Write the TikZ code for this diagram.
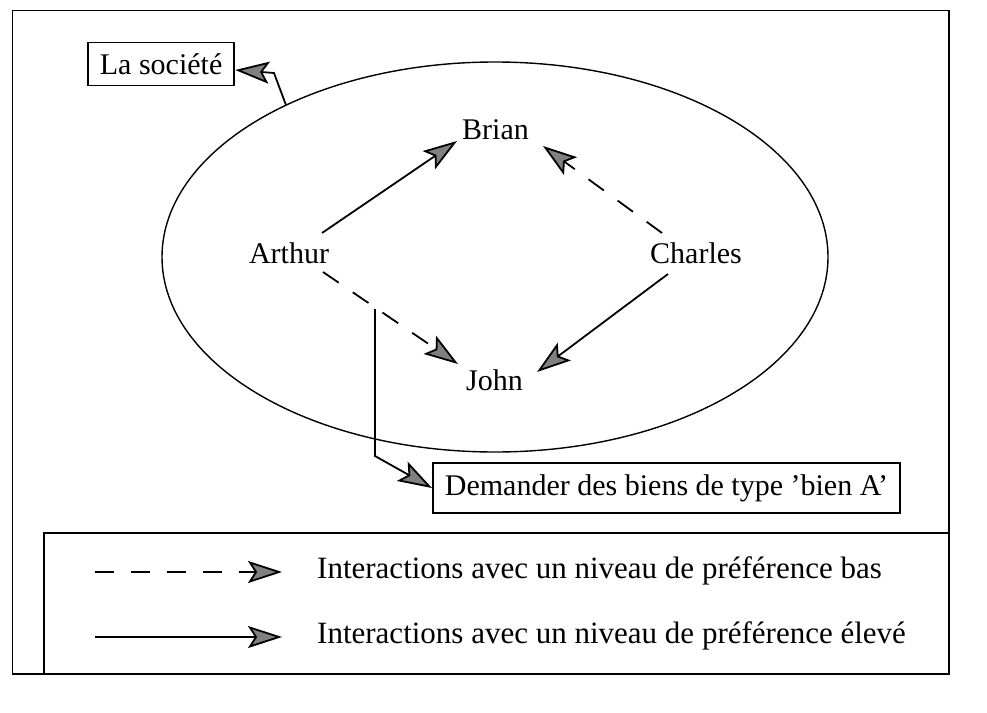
\documentclass[tikz,border=0pt]{standalone}
\usepackage{fontspec}
\setmainfont{Liberation Serif}
\usetikzlibrary{arrows.meta,shapes.geometric,calc}
\begin{document}
\begin{tikzpicture}[x=1pt,y=-1pt,
  txt/.style={font=\fontsize{30}{36}\selectfont, inner sep=0pt},
  legendtxt/.style={font=\fontsize{31}{37}\selectfont, inner sep=0pt, anchor=base west},
  person/.style={txt, anchor=base},
  labelbox/.style={txt, draw, line width=1.8pt, inner xsep=12pt, inner ysep=11pt, anchor=west},
  headtip/.style={-{Stealth[length=34pt,width=22pt,inset=7pt,fill=black!50]}},
  link/.style={line width=1.8pt, headtip},
  weak/.style={link, dash pattern=on 19pt off 17pt},
  frame/.style={line width=1.8pt},
]
\useasboundingbox (0,0) rectangle (987,712);

% outer frame
\draw[frame] (12.5,10.5) rectangle (949,674);

% the society
\node[draw, ellipse, line width=1.4pt, minimum width=666pt, minimum height=390pt,
      inner sep=0pt, outer sep=0pt] (society) at (495,257) {};

% agents
\node[person] (brian)   at (495.5,139) {Brian};
\node[person] (arthur)  at (289,263)   {Arthur};
\node[person] (charles) at (696,263)   {Charles};
\node[person] (john)    at (494.5,390) {John};

% interactions
\draw[link] ($(arthur.base)+(33,-30)$) -- ($(brian.base)+(-38.5,2)$);
\draw[weak] ($(charles.base)+(-34,-30)$) -- ($(brian.base)+(47.5,7)$);
\draw[link] ($(charles.base)+(-28,11)$) -- ($(john.base)+(42.5,-18)$);
\draw[weak] ($(arthur.base)+(34,9)$) -- ($(john.base)+(-36.5,-26)$);

% captions
\node[labelbox] (soc) at (87,64) {La société};
\coordinate (sbend) at (274,73);
\draw[link] (society.144) -- (sbend) -- ($(soc.east)+(0,6)$);

\node[labelbox] (dem) at (432,488) {Demander des biens de type 'bien A'};
\coordinate (dstart) at (375,309);
\coordinate (dbend) at (375,456);
\draw[link] (dstart) -- (dbend) -- (dem.west);

% legend
\draw[frame] (44,533) rectangle (949,674);
\coordinate (lowA) at (95,572);
\coordinate (lowB) at (282,572);
\coordinate (highA) at (95,637);
\coordinate (highB) at (282,637);
\draw[weak] (lowA) -- (lowB);
\draw[link] (highA) -- (highB);
\node[legendtxt] (lowtxt)  at (317,578) {Interactions avec un niveau de préférence bas};
\node[legendtxt] (hightxt) at (317,643) {Interactions avec un niveau de préférence élevé};
\end{tikzpicture}
\end{document}
